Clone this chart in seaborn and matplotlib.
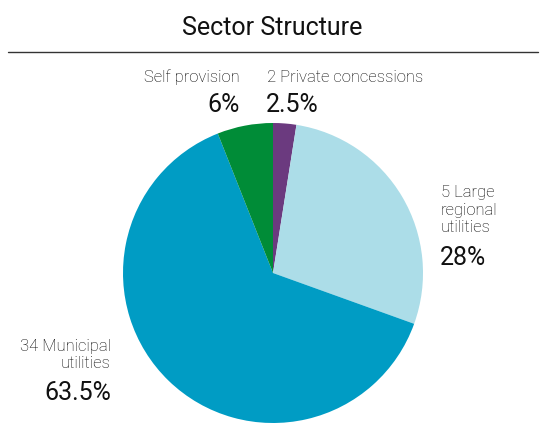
import matplotlib
matplotlib.use("Agg")
import matplotlib.pyplot as plt
import seaborn as sns

sns.set_theme(style="white")
plt.rcParams['font.family'] = ['Roboto', 'DejaVu Sans']

# Share of the sector by type of provider
categories = ["2 Private concessions", "5 Large\nregional\nutilities", "34 Municipal\nutilities", "Self provision"]
shares = [2.5, 28.0, 63.5, 6.0]
share_labels = ["2.5%", "28%", "63.5%", "6%"]
colors = ["#6b3a7f", "#acdde8", "#009cc4", "#008c37"]

W, H = 544, 423
fig = plt.figure(figsize=(W / 100, H / 100), dpi=100)

def fx(px):
    return px / W

def fy(py):
    return 1 - py / H

# Pie axes: square box of 300 px, centred at (273, 273)
cx, cy, r = 273, 273, 150
ax = fig.add_axes([fx(cx - r), fy(cy + r), 2 * r / W, 2 * r / H])
ax.pie(shares, colors=colors, startangle=90, counterclock=False,
       wedgeprops=dict(linewidth=0), radius=1)
ax.set_xlim(-1, 1)
ax.set_ylim(-1, 1)
ax.set_aspect("auto")
ax.axis("off")

# Title and rule
fig.text(fx(272), fy(28), "Sector Structure", ha="center", va="center",
         fontsize=18, color="#111111")
fig.add_artist(plt.Line2D([fx(8), fx(538)], [fy(52), fy(52)],
                          color="#333333", linewidth=1.0))

label_kw = dict(fontsize=12, color="#000000", fontweight="light", linespacing=1.2)
pct_kw = dict(fontsize=18, color="#111111")

# Private concessions
fig.text(fx(267), fy(77), categories[0], ha="left", va="center", **label_kw)
fig.text(fx(266), fy(105), share_labels[0], ha="left", va="center", **pct_kw)

# Self provision
fig.text(fx(240), fy(77), categories[3], ha="right", va="center", **label_kw)
fig.text(fx(240), fy(105), share_labels[3], ha="right", va="center", **pct_kw)

# Large regional utilities
fig.text(fx(441), fy(210), categories[1], ha="left", va="center", **label_kw)
fig.text(fx(440), fy(258), share_labels[1], ha="left", va="center", **pct_kw)

# Municipal utilities
fig.text(fx(111), fy(355), categories[2], ha="right", va="center",
         multialignment="right", **label_kw)
fig.text(fx(111), fy(393), share_labels[2], ha="right", va="center", **pct_kw)

fig.savefig("out.png", dpi=100, facecolor="white")
